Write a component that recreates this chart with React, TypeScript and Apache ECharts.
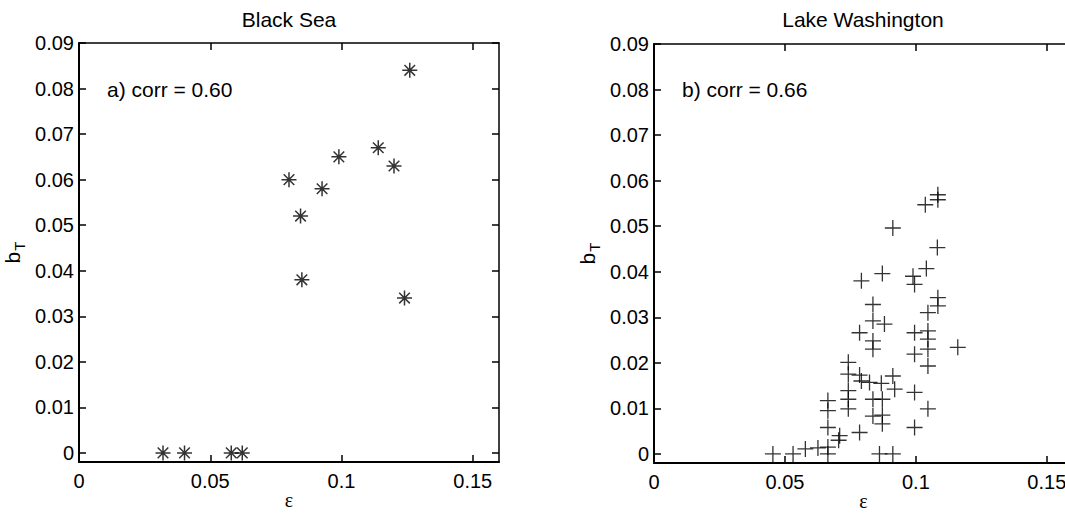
import React, { useEffect, useRef } from "react";
import * as echarts from "echarts";

// ---- data ----
const PANEL_TITLES = ["Black Sea", "Lake Washington"];
const PANEL_NOTES = ["a) corr = 0.60", "b) corr = 0.66"];

const BS_EPS = [0.126, 0.114, 0.099, 0.12, 0.08, 0.0926, 0.0844, 0.0849, 0.124, 0.032, 0.0402, 0.058, 0.0622];
const BS_BT = [0.084, 0.067, 0.065, 0.063, 0.06, 0.058, 0.052, 0.038, 0.034, 0, 0, 0, 0];

const LW_EPS = [
  0.0454, 0.0531, 0.0578, 0.0626, 0.0664, 0.0664, 0.0705, 0.0709, 0.0785, 0.0664,
  0.0664, 0.0664, 0.0742, 0.0742, 0.0742, 0.0742, 0.0742, 0.0785, 0.0792, 0.0823,
  0.0868, 0.0912, 0.0919, 0.0836, 0.0872, 0.0836, 0.0872, 0.0872, 0.0861, 0.0912,
  0.0792, 0.0872, 0.0912, 0.0785, 0.0836, 0.0836, 0.0836, 0.0836, 0.088, 0.0989,
  0.0995, 0.104, 0.1036, 0.1084, 0.1084, 0.1082, 0.1084, 0.1084, 0.1046, 0.0995,
  0.1046, 0.1046, 0.1046, 0.0995, 0.1046, 0.116, 0.0995, 0.1046, 0.0995,
];
const LW_BT = [
  0, 0, 0.0011, 0.0013, 0, 0.0015, 0.003, 0.004, 0.0047, 0.0058,
  0.0095, 0.0117, 0.0099, 0.012, 0.0139, 0.0175, 0.0201, 0.0173, 0.016, 0.0157,
  0.0155, 0.0171, 0.0142, 0.012, 0.012, 0.0083, 0.0085, 0.0066, 0, 0,
  0.038, 0.0396, 0.0496, 0.0266, 0.0328, 0.0292, 0.0248, 0.023, 0.0285, 0.039,
  0.0372, 0.0407, 0.0547, 0.0569, 0.0558, 0.0453, 0.0343, 0.0325, 0.031, 0.0266,
  0.027, 0.0252, 0.023, 0.0219, 0.0193, 0.0234, 0.0135, 0.0099, 0.0058,
];

const X_TICKS = [0, 0.05, 0.1, 0.15];
const Y_TICKS = [0, 0.01, 0.02, 0.03, 0.04, 0.05, 0.06, 0.07, 0.08, 0.09];
const X_RANGE = [0, 0.16];
const Y_RANGE = [-0.002, 0.09];

const FONT = "Liberation Sans, Arial, Helvetica, sans-serif";
const PLUS = "path://M0,-10L0,10M-10,0L10,0";
const STAR = "path://M0,-10L0,10M-10,0L10,0M-7.07,-7.07L7.07,7.07M-7.07,7.07L7.07,-7.07";

const fmt = (v: number) => String(+(+v).toFixed(3));

export default function App() {
  const ref = useRef<HTMLDivElement>(null);
  useEffect(() => {
    if (!ref.current) return;
    const chart = echarts.init(ref.current, null, { renderer: "svg" });

    const grids = [
      { left: 79, top: 43, width: 420, height: 419 },
      { left: 654, top: 44, width: 419, height: 419 },
    ];

    const xAxes: any[] = [];
    const yAxes: any[] = [];
    grids.forEach((_, gi) => {
      // bottom
      xAxes.push({
        type: "value", gridIndex: gi, position: "bottom",
        min: X_RANGE[0], max: X_RANGE[1],
        name: "ε", nameLocation: "middle", nameGap: 28, nameMoveOverlap: false,
        nameTextStyle: { fontFamily: "Liberation Serif, Times New Roman, serif", fontSize: 20, lineHeight: 20, color: "#000" },
        axisLine: { show: true, onZero: false, lineStyle: { color: "#000", width: 2 } },
        axisTick: { show: true, inside: true, length: 7, customValues: X_TICKS, lineStyle: { color: "#000", width: 1.5 } },
        axisLabel: { show: true, customValues: X_TICKS, formatter: fmt, color: "#000", fontFamily: FONT, fontSize: 20, margin: 9, showMaxLabel: true },
        splitLine: { show: false },
      });
      // top (box)
      xAxes.push({
        type: "value", gridIndex: gi, position: "top",
        min: X_RANGE[0], max: X_RANGE[1],
        axisLine: { show: true, onZero: false, lineStyle: { color: "#000", width: 1.5 } },
        axisTick: { show: true, inside: true, length: 7, customValues: X_TICKS, lineStyle: { color: "#000", width: 1.5 } },
        axisLabel: { show: false },
        splitLine: { show: false },
      });
      // left
      yAxes.push({
        type: "value", gridIndex: gi, position: "left",
        min: Y_RANGE[0], max: Y_RANGE[1],
        name: "{b|b}{t|T}", nameLocation: "middle", nameGap: 52, nameRotate: 90,
        nameTextStyle: {
          color: "#000", fontFamily: FONT,
          rich: {
            b: { fontSize: 21, fontFamily: FONT, color: "#000", lineHeight: 30, verticalAlign: "middle" },
            t: { fontSize: 15, fontFamily: FONT, color: "#000", lineHeight: 30, verticalAlign: "bottom", padding: [0, 0, 0, 1] },
          },
        },
        axisLine: { show: true, onZero: false, lineStyle: { color: "#000", width: 2 } },
        axisTick: { show: true, inside: true, length: 7, customValues: Y_TICKS, lineStyle: { color: "#000", width: 1.5 } },
        axisLabel: { show: true, customValues: Y_TICKS, formatter: fmt, color: "#000", fontFamily: FONT, fontSize: 20, margin: 5 },
        splitLine: { show: false },
      });
      // right (box)
      yAxes.push({
        type: "value", gridIndex: gi, position: "right",
        min: Y_RANGE[0], max: Y_RANGE[1],
        axisLine: { show: true, onZero: false, lineStyle: { color: "#000", width: 1.5 } },
        axisTick: { show: true, inside: true, length: 7, customValues: Y_TICKS, lineStyle: { color: "#000", width: 1.5 } },
        axisLabel: { show: false },
        splitLine: { show: false },
      });
    });

    const option: any = {
      animation: false,
      backgroundColor: "#fff",
      title: [
        { text: PANEL_TITLES[0], left: 289, top: 9, padding: 0, textAlign: "center",
          textStyle: { fontFamily: FONT, fontSize: 21, fontWeight: "normal", color: "#000" } },
        { text: PANEL_TITLES[1], left: 863, top: 9, padding: 0, textAlign: "center",
          textStyle: { fontFamily: FONT, fontSize: 21, fontWeight: "normal", color: "#000" } },
        { text: PANEL_NOTES[0], left: 107, top: 79, padding: 0,
          textStyle: { fontFamily: FONT, fontSize: 21, fontWeight: "normal", color: "#000" } },
        { text: PANEL_NOTES[1], left: 682, top: 79, padding: 0,
          textStyle: { fontFamily: FONT, fontSize: 21, fontWeight: "normal", color: "#000" } },
      ],
      grid: grids.map((g) => ({ ...g, containLabel: false, outerBoundsMode: "none" })),
      xAxis: xAxes,
      yAxis: yAxes,
      series: [
        {
          type: "scatter", xAxisIndex: 0, yAxisIndex: 0,
          data: BS_EPS.map((x, i) => [x, BS_BT[i]]),
          symbol: STAR, symbolSize: 15,
          itemStyle: { color: "#000", borderColor: "#000", borderWidth: 1.5 },
          clip: false,
        },
        {
          type: "scatter", xAxisIndex: 2, yAxisIndex: 2,
          data: LW_EPS.map((x, i) => [x, LW_BT[i]]),
          symbol: PLUS, symbolSize: 16,
          itemStyle: { color: "#000", borderColor: "#000", borderWidth: 1.3 },
          clip: false,
        },
      ],
    };
    chart.setOption(option);
    return () => chart.dispose();
  }, []);
  return (
    <div style={{ position: "absolute", left: 0, top: 0, width: 1065, height: 514, overflow: "hidden", background: "#fff" }}>
      <div ref={ref} style={{ width: 1090, height: 514 }} />
    </div>
  );
}
